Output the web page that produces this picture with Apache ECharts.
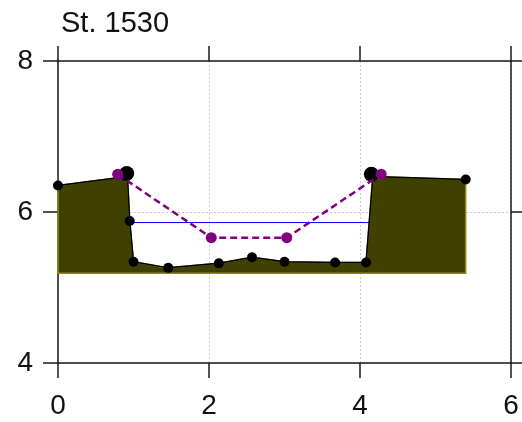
<!DOCTYPE html>
<html>
<head>
<meta charset="utf-8">
<script src="https://cdn.jsdelivr.net/npm/echarts@6/dist/echarts.min.js"></script>
<style>
  html, body { margin: 0; padding: 0; background: #fff; }
  #main { width: 522px; height: 422px; }
</style>
</head>
<body>
<div id="main"></div>
<script>
// 断面名称
const stationName = 'St. 1530';

// 河床断面点（x: 距离, y: 高程）
const bedX = [0, 0.92, 0.95, 1.0, 1.46, 2.13, 2.57, 3.0, 3.67, 4.08, 4.17, 5.40];
const bedY = [6.35, 6.47, 5.88, 5.34, 5.26, 5.32, 5.40, 5.34, 5.33, 5.33, 6.47, 6.43];
// 拐角点不画圆点
const bedDot = [true, false, true, true, true, true, true, true, true, true, false, true];
// 断面底部高程
const baseY = 5.19;

// 岸顶标记点（大黑点）
const bankX = [0.91, 4.15];
const bankY = [6.51, 6.50];

// 水位线
const waterX = [0.95, 4.13];
const waterY = [5.86, 5.86];

// 紫色虚线（设计断面）
const designX = [0.79, 2.03, 3.03, 4.28];
const designY = [6.50, 5.66, 5.66, 6.50];

// 坐标轴刻度
const xTicks = [0, 2, 4, 6];
const yTicks = [4, 6, 8];

const font = "'Liberation Sans', Arial, sans-serif";
const axisColor = '#1a1a1a';

var myChart = echarts.init(document.getElementById('main'));

function zip(xs, ys) {
  return xs.map((x, i) => [x, ys[i]]);
}

// 通用的轴配置
function makeAxis(position, ticks, withLabel, withGrid, margin) {
  return {
    type: 'value',
    position: position,
    min: ticks[0],
    max: ticks[ticks.length - 1],
    interval: ticks[1] - ticks[0],
    axisLine: { show: true, onZero: false, lineStyle: { color: axisColor, width: 1.5 } },
    axisTick: { show: true, inside: false, length: 15, lineStyle: { color: axisColor, width: 1.5 } },
    axisLabel: {
      show: withLabel,
      fontSize: 28,
      fontFamily: font,
      color: '#111',
      margin: margin,
      showMinLabel: true,
      showMaxLabel: true
    },
    splitLine: {
      show: withGrid,
      lineStyle: { color: '#cccccc', type: [2, 2], width: 1 }
    }
  };
}

const option = {
  animation: false,
  backgroundColor: '#fff',
  title: {
    text: stationName,
    left: 56,
    top: 4,
    textStyle: { fontSize: 29, fontWeight: 'normal', fontFamily: font, color: '#111' }
  },
  grid: { left: 58, right: 11, top: 61, bottom: 59 },
  xAxis: [
    makeAxis('bottom', xTicks, true, true, 29),
    makeAxis('top', xTicks, false, false, 0)
  ],
  yAxis: [
    makeAxis('left', yTicks, true, true, 25),
    makeAxis('right', yTicks, false, false, 0)
  ],
  series: [
    {
      // 断面填充
      type: 'custom',
      xAxisIndex: 0,
      yAxisIndex: 0,
      data: [[0, baseY]],
      z: 1,
      renderItem: function (params, api) {
        const pts = bedX.map((x, i) => api.coord([x, bedY[i]]));
        pts.push(api.coord([bedX[bedX.length - 1], baseY]));
        pts.push(api.coord([bedX[0], baseY]));
        return {
          type: 'polygon',
          shape: { points: pts },
          style: { fill: '#404000', stroke: '#8c8c10', lineWidth: 1.5 }
        };
      }
    },
    {
      // 水位线
      type: 'line',
      data: zip(waterX, waterY),
      showSymbol: false,
      z: 2,
      lineStyle: { color: '#0000ff', width: 1 }
    },
    {
      // 河床线
      type: 'line',
      data: bedX.map((x, i) => ({
        value: [x, bedY[i]],
        symbol: bedDot[i] ? 'circle' : 'none'
      })),
      symbol: 'circle',
      symbolSize: 10,
      z: 3,
      itemStyle: { color: '#000' },
      lineStyle: { color: '#000', width: 1.5 }
    },
    {
      // 岸顶大点
      type: 'scatter',
      data: zip(bankX, bankY),
      symbolSize: 15,
      z: 4,
      itemStyle: { color: '#000', opacity: 1 }
    },
    {
      // 紫色虚线
      type: 'line',
      data: zip(designX, designY),
      symbol: 'circle',
      symbolSize: 11,
      z: 5,
      itemStyle: { color: '#800080' },
      lineStyle: { color: '#800080', width: 2.5, type: [7, 4] }
    }
  ]
};

myChart.setOption(option);
</script>
</body>
</html>
